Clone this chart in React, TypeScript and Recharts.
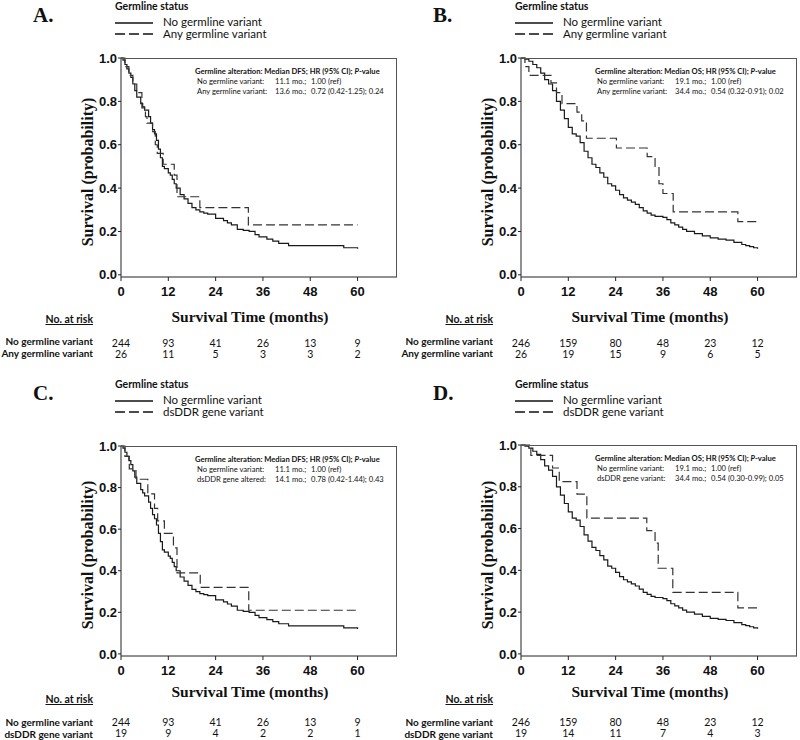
import React from "react";
import { Line, LineChart, XAxis, YAxis } from "recharts";

const monthTicks = [0, 12, 24, 36, 48, 60];
const survTicks = [0, 0.2, 0.4, 0.6, 0.8, 1.0];

// DFS, no germline variant (panels A and C)
const dfsNoTime = [0, 0.5, 1, 1.5, 2, 2.5, 3, 3.5, 4, 5, 5.5, 6, 7, 7.5, 8, 8.5, 9, 9.5, 10, 10.5, 11, 12, 12.5, 13, 13.5, 14, 15, 16, 17, 18, 19, 20, 21, 22, 24, 26, 27, 28, 29.5, 31, 32.5, 34, 35, 37, 38.5, 40, 42.5, 56.5, 60];
const dfsNoSurv = [1, 0.99, 0.97, 0.95, 0.93, 0.91, 0.88, 0.85, 0.82, 0.79, 0.775, 0.76, 0.73, 0.7, 0.67, 0.65, 0.62, 0.58, 0.54, 0.5, 0.49, 0.47, 0.46, 0.44, 0.42, 0.4, 0.37, 0.35, 0.33, 0.31, 0.3, 0.29, 0.285, 0.28, 0.26, 0.25, 0.24, 0.23, 0.21, 0.205, 0.2, 0.185, 0.175, 0.165, 0.155, 0.145, 0.135, 0.125, 0.12];

// OS, no germline variant (panels B and D)
const osNoTime = [0, 1, 2, 3, 4, 5, 6, 7, 8, 9, 10, 11, 12, 13, 14, 15, 16, 17, 18, 19, 20, 21, 22, 23, 24, 25, 26, 27, 28, 29, 30, 31, 32, 33, 34, 36, 37, 38, 39, 40, 41, 42, 44, 46, 48, 50, 52, 54, 56, 57, 58, 59, 60];
const osNoSurv = [1, 0.995, 0.985, 0.97, 0.955, 0.93, 0.9, 0.88, 0.85, 0.8, 0.76, 0.72, 0.68, 0.65, 0.64, 0.61, 0.57, 0.54, 0.51, 0.495, 0.47, 0.45, 0.42, 0.41, 0.39, 0.37, 0.355, 0.345, 0.335, 0.325, 0.31, 0.295, 0.285, 0.275, 0.27, 0.265, 0.255, 0.24, 0.23, 0.22, 0.21, 0.2, 0.19, 0.18, 0.17, 0.165, 0.16, 0.15, 0.14, 0.135, 0.13, 0.125, 0.12];

// any germline variant
const dfsAnyTime = [0, 1, 2, 3, 4, 5.3, 6.2, 6.6, 8, 8.7, 9.2, 10.7, 13.5, 14.2, 20, 32.3, 60];
const dfsAnySurv = [1, 0.96, 0.92, 0.88, 0.84, 0.77, 0.73, 0.7, 0.66, 0.6, 0.56, 0.51, 0.46, 0.36, 0.31, 0.23, 0.23];
const osAnyTime = [0, 1, 2, 7.6, 9, 10.4, 14.2, 15.4, 16.6, 24.2, 32, 34, 35, 36, 38.6, 55, 60];
const osAnySurv = [1, 0.96, 0.92, 0.885, 0.84, 0.79, 0.75, 0.71, 0.63, 0.585, 0.545, 0.5, 0.42, 0.375, 0.29, 0.245, 0.245];

// dsDDR gene variant
const dfsDdrTime = [0, 1, 2.1, 3.8, 6.8, 8.5, 9.3, 11, 13.3, 14.2, 20.1, 32.4, 60];
const dfsDdrSurv = [1, 0.95, 0.89, 0.84, 0.77, 0.7, 0.64, 0.58, 0.51, 0.39, 0.32, 0.21, 0.21];
const osDdrTime = [0, 2.5, 8, 9.7, 14.2, 16.7, 31.9, 34, 34.8, 38.5, 55, 60];
const osDdrSurv = [1, 0.95, 0.89, 0.825, 0.765, 0.65, 0.59, 0.53, 0.41, 0.295, 0.22, 0.22];

// numbers at risk
const riskDfsNo = [244, 93, 41, 26, 13, 9];
const riskDfsAny = [26, 11, 5, 3, 3, 2];
const riskOsNo = [246, 159, 80, 48, 23, 12];
const riskOsAny = [26, 19, 15, 9, 6, 5];
const riskDfsDdr = [19, 9, 4, 2, 2, 1];
const riskOsDdr = [19, 14, 11, 7, 4, 3];

const toRows = (t: number[], s: number[]) => t.map((x, i) => ({ t: x, s: s[i] }));

const SERIF = "'Liberation Serif', 'Times New Roman', serif";
const ARIAL = "'Liberation Sans', Arial, sans-serif";
const CALIBRI = "Lato, 'Open Sans', sans-serif";

const X_DOMAIN: [number, number] = [0, 70];
const Y_DOMAIN: [number, number] = [-0.01, 1];

type PanelProps = {
  letter: string;
  left: number;
  top: number;
  plotTop: number;
  axisY: number;
  solid: { t: number; s: number }[];
  dashed: { t: number; s: number }[];
  groupLabel: string;
  endpoint: string;
  stats: string[][];
  riskA: number[];
  riskB: number[];
  xLabelY: number;
  riskTitleY: number;
  rowY: number[];
};

function MonthTick(props: any) {
  const { x, y, payload, index, riskA, riskB } = props;
  return (
    <g>
      <text x={x} y={y + 13} textAnchor="middle" fontFamily={ARIAL} fontWeight="bold" fontSize={13} fill="#111">
        {payload.value}
      </text>
      <text x={x} y={y + 64} textAnchor="middle" fontFamily={CALIBRI} fontSize={10.5} fill="#111">
        {riskA[index]}
      </text>
      <text x={x} y={y + 75} textAnchor="middle" fontFamily={CALIBRI} fontSize={10.5} fill="#111">
        {riskB[index]}
      </text>
    </g>
  );
}

function Panel(p: PanelProps) {
  const W = 400;
  const H = 370;
  const xAxisH = 85;
  const yAxisW = 40;
  const m = { top: p.plotTop, right: 3, bottom: H - p.axisY - xAxisH, left: 81 };
  const plotCenter = (p.plotTop + p.axisY) / 2;
  return (
    <div style={{ position: "absolute", left: p.left, top: p.top, width: W, height: H }}>
      <LineChart width={W} height={H} margin={m}>
        <XAxis
          dataKey="t"
          type="number"
          domain={X_DOMAIN}
          ticks={monthTicks}
          height={xAxisH}
          tickSize={4}
          stroke="#222"
          interval={0}
          tick={(tp: any) => <MonthTick {...tp} riskA={p.riskA} riskB={p.riskB} />}
        />
        <YAxis
          type="number"
          domain={Y_DOMAIN}
          ticks={survTicks}
          width={yAxisW}
          tickSize={3}
          tickMargin={1}
          stroke="#222"
          interval={0}
          tickFormatter={(v: number) => v.toFixed(1)}
          tick={{ fontFamily: ARIAL, fontWeight: "bold", fontSize: 13, fill: "#111" }}
        />
        <Line
          data={p.solid}
          dataKey="s"
          type="stepAfter"
          stroke="#1a1a1a"
          strokeWidth={1.2}
          dot={false}
          isAnimationActive={false}
        />
        <Line
          data={p.dashed}
          dataKey="s"
          type="stepAfter"
          stroke="#333"
          strokeWidth={1.2}
          strokeDasharray="9 4"
          dot={false}
          isAnimationActive={false}
        />
      </LineChart>

      {/* top and right edges of the plot frame */}
      <div
        style={{
          position: "absolute",
          left: m.left + yAxisW,
          top: m.top,
          width: W - m.left - yAxisW - m.right,
          height: p.axisY - m.top,
          borderTop: "1px solid #555",
          borderRight: "1px solid #555",
          boxSizing: "border-box",
          pointerEvents: "none",
        }}
      />

      <div style={{ position: "absolute", left: 33, top: 3, fontFamily: SERIF, fontWeight: "bold", fontSize: 21, color: "#111" }}>
        {p.letter}
      </div>

      <div style={{ position: "absolute", left: 115, top: 0, fontFamily: CALIBRI, fontWeight: "bold", fontSize: 10.5, color: "#111", lineHeight: "13px" }}>
        Germline status
      </div>
      <svg style={{ position: "absolute", left: 115, top: 18 }} width={40} height={20}>
        <line x1={0} x2={38} y1={5} y2={5} stroke="#111" strokeWidth={1.3} />
        <line x1={0} x2={38} y1={16} y2={16} stroke="#111" strokeWidth={1.3} strokeDasharray="10 4" />
      </svg>
      <div style={{ position: "absolute", left: 163, top: 16, fontFamily: CALIBRI, fontSize: 11.5, color: "#111", lineHeight: "12px" }}>
        <div>No germline variant</div>
        <div>{p.groupLabel}</div>
      </div>

      <div
        style={{
          position: "absolute",
          left: 195,
          top: p.plotTop + 8,
          fontFamily: CALIBRI,
          fontSize: 7.6,
          color: "#111",
          lineHeight: "10px",
          whiteSpace: "nowrap",
        }}
      >
        <div style={{ fontWeight: "bold" }}>
          Germline alteration: Median {p.endpoint}; HR (95% CI); <i>P</i>-value
        </div>
        {p.stats.map((r, i) => (
          <div key={i} style={{ display: "grid", gridTemplateColumns: "78px 36px auto", paddingLeft: 2 }}>
            <span>{r[0]}</span>
            <span>{r[1]}</span>
            <span>{r[2]}</span>
          </div>
        ))}
      </div>

      <div
        style={{
          position: "absolute",
          left: 88,
          top: plotCenter + 4,
          transform: "translate(-50%, -50%) rotate(-90deg)",
          fontFamily: SERIF,
          fontWeight: "bold",
          fontSize: 16,
          color: "#111",
          whiteSpace: "nowrap",
        }}
      >
        Survival (probability)
      </div>

      <div
        style={{
          position: "absolute",
          left: 250,
          top: p.xLabelY,
          transform: "translate(-50%, -50%)",
          fontFamily: SERIF,
          fontWeight: "bold",
          fontSize: 15.5,
          color: "#111",
          whiteSpace: "nowrap",
        }}
      >
        Survival Time (months)
      </div>

      <div
        style={{
          position: "absolute",
          right: W - 93,
          top: p.riskTitleY - 7,
          fontFamily: CALIBRI,
          fontWeight: "bold",
          fontSize: 10.5,
          color: "#111",
          textDecoration: "underline",
          whiteSpace: "nowrap",
        }}
      >
        No. at risk
      </div>
      <div
        style={{
          position: "absolute",
          right: W - 93,
          top: p.rowY[0] - 7,
          fontFamily: CALIBRI,
          fontWeight: "bold",
          fontSize: 10,
          color: "#111",
          textAlign: "right",
          lineHeight: "12px",
          whiteSpace: "nowrap",
        }}
      >
        <div>No germline variant</div>
        <div>{p.groupLabel}</div>
      </div>
    </div>
  );
}

export default function App() {
  const dfsNo = toRows(dfsNoTime, dfsNoSurv);
  const osNo = toRows(osNoTime, osNoSurv);
  return (
    <div style={{ position: "absolute", left: 0, top: 0, width: 800, height: 740, background: "#fff", overflow: "hidden" }}>
      <Panel
        letter="A."
        left={0}
        top={0}
        plotTop={58}
        axisY={277}
        solid={dfsNo}
        dashed={toRows(dfsAnyTime, dfsAnySurv)}
        groupLabel="Any germline variant"
        endpoint="DFS"
        stats={[
          ["No germline variant:", "11.1 mo.;", "1.00 (ref)"],
          ["Any germline variant:", "13.6 mo.;", "0.72 (0.42-1.25); 0.24"],
        ]}
        riskA={riskDfsNo}
        riskB={riskDfsAny}
        xLabelY={317}
        riskTitleY={320}
        rowY={[342, 354]}
      />
      <Panel
        letter="B."
        left={400}
        top={0}
        plotTop={58}
        axisY={277}
        solid={osNo}
        dashed={toRows(osAnyTime, osAnySurv)}
        groupLabel="Any germline variant"
        endpoint="OS"
        stats={[
          ["No germline variant:", "19.1 mo.;", "1.00 (ref)"],
          ["Any germline variant:", "34.4 mo.;", "0.54 (0.32-0.91); 0.02"],
        ]}
        riskA={riskOsNo}
        riskB={riskOsAny}
        xLabelY={317}
        riskTitleY={320}
        rowY={[342, 354]}
      />
      <Panel
        letter="C."
        left={0}
        top={378}
        plotTop={68}
        axisY={278}
        solid={dfsNo}
        dashed={toRows(dfsDdrTime, dfsDdrSurv)}
        groupLabel="dsDDR gene variant"
        endpoint="DFS"
        stats={[
          ["No germline variant:", "11.1 mo.;", "1.00 (ref)"],
          ["dsDDR gene altered:", "14.1 mo.;", "0.78 (0.42-1.44); 0.43"],
        ]}
        riskA={riskDfsNo}
        riskB={riskDfsDdr}
        xLabelY={314}
        riskTitleY={322}
        rowY={[345, 356]}
      />
      <Panel
        letter="D."
        left={400}
        top={378}
        plotTop={67}
        axisY={278}
        solid={osNo}
        dashed={toRows(osDdrTime, osDdrSurv)}
        groupLabel="dsDDR gene variant"
        endpoint="OS"
        stats={[
          ["No germline variant:", "19.1 mo.;", "1.00 (ref)"],
          ["dsDDR gene variant:", "34.4 mo.;", "0.54 (0.30-0.99); 0.05"],
        ]}
        riskA={riskOsNo}
        riskB={riskOsDdr}
        xLabelY={314}
        riskTitleY={322}
        rowY={[345, 356]}
      />
    </div>
  );
}
